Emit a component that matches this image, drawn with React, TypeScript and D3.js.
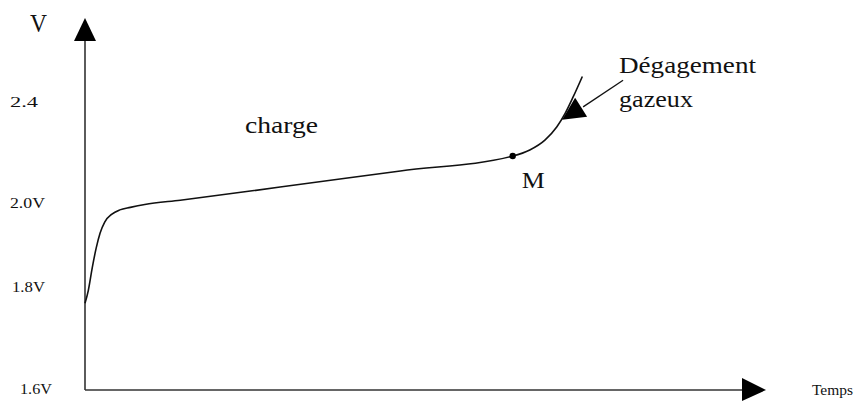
import React from "react";
import * as d3 from "d3";

// courbe de charge (temps en unités arbitraires, tension en V)
const temps = [0, 0.5, 1.1, 1.7, 2.3, 3.0, 4.1, 5.3, 6.9, 9.1, 14.5, 29.7, 48.0, 65.1, 67.7, 70.0, 71.8, 73.1, 74.3, 75.7];
const tension = [1.77, 1.795, 1.848, 1.895, 1.931, 1.957, 1.976, 1.986, 1.992, 1.999, 2.015, 2.067, 2.131, 2.19, 2.214, 2.253, 2.305, 2.36, 2.424, 2.505];

const yTicks = [1.6, 1.8, 2.0, 2.4];
const yTickLabels = ["1.6V", "1.8V", "2.0V", "2.4"];
const yTickWidths = [32, 33, 35, 28];

const pointM = { t: 65.1, v: 2.19, label: "M" };
const gazTip = { t: 74.6, v: 2.365 };
const gazTail = { t: 81.9, v: 2.49 };
const gazLabel = ["Dégagement", "gazeux"];

const W = 862;
const H = 401;
const font = "'Liberation Serif', 'Times New Roman', serif";
const ink = "#111";

export default function App() {
  const x = d3.scaleLinear().domain([0, 100]).range([85, 742]);
  // l'échelle du croquis n'est pas régulière
  const y = d3.scaleLinear().domain(yTicks).range([390, 288, 204, 103]);

  const pts: [number, number][] = temps.map((t, i) => [t, tension[i]]);
  const line = d3
    .line<[number, number]>()
    .x((d) => x(d[0]))
    .y((d) => y(d[1]))
    .curve(d3.curveMonotoneX);

  const x0 = x(0);
  const y0 = y(1.6);
  const mx = x(pointM.t);
  const my = y(pointM.v);
  const tx = x(gazTip.t);
  const ty = y(gazTip.v);
  const lx = x(gazTail.t);
  const ly = y(gazTail.v);

  return (
    <svg width={W} height={H} style={{ position: "absolute", left: 0, top: 0, background: "#fff" }}>
      {/* axes */}
      <line x1={x0} y1={y0} x2={x0} y2={40} stroke="#333" strokeWidth={1.6} />
      <polygon points={`${x0 - 11},${41} ${x0 + 11},${41} ${x0},${18}`} fill="#000" />
      <line x1={x0} y1={y0} x2={744} y2={y0} stroke="#333" strokeWidth={1.6} />
      <polygon points={`742,${y0 - 12} 742,${y0 + 11} 766,${y0}`} fill="#000" />

      <text x={30} y={32} fontFamily={font} fontSize={25} fill={ink} textLength={17} lengthAdjust="spacingAndGlyphs">V</text>
      <text x={812} y={395} fontFamily={font} fontSize={15} fill={ink} textLength={41} lengthAdjust="spacingAndGlyphs">Temps</text>

      {yTicks.map((v, i) => (
        <text
          key={v}
          x={i === 0 ? 20 : i === 1 ? 12 : 10}
          y={y(v) + 4}
          fontFamily={font}
          fontSize={14}
          fill={ink}
          textLength={yTickWidths[i]}
          lengthAdjust="spacingAndGlyphs"
        >
          {yTickLabels[i]}
        </text>
      ))}

      {/* courbe */}
      <path d={line(pts) || ""} fill="none" stroke="#111" strokeWidth={1.6} />

      <circle cx={mx} cy={my} r={3.2} fill="#000" />
      <text x={mx + 9} y={my + 32} fontFamily={font} fontSize={23} fill={ink} textLength={23} lengthAdjust="spacingAndGlyphs">
        {pointM.label}
      </text>

      <text x={245} y={133} fontFamily={font} fontSize={23} fill={ink} textLength={73} lengthAdjust="spacingAndGlyphs">charge</text>

      {/* dégagement gazeux */}
      <line x1={lx} y1={ly} x2={tx + 8} y2={ty - 5} stroke="#111" strokeWidth={1.3} />
      <polygon points={`${tx},${ty - 14} ${tx - 13},${ty + 8} ${tx + 12},${ty + 5}`} fill="#000" />
      <text x={619} y={73} fontFamily={font} fontSize={23} fill={ink} textLength={137} lengthAdjust="spacingAndGlyphs">{gazLabel[0]}</text>
      <text x={619} y={107} fontFamily={font} fontSize={23} fill={ink} textLength={74} lengthAdjust="spacingAndGlyphs">{gazLabel[1]}</text>
    </svg>
  );
}
